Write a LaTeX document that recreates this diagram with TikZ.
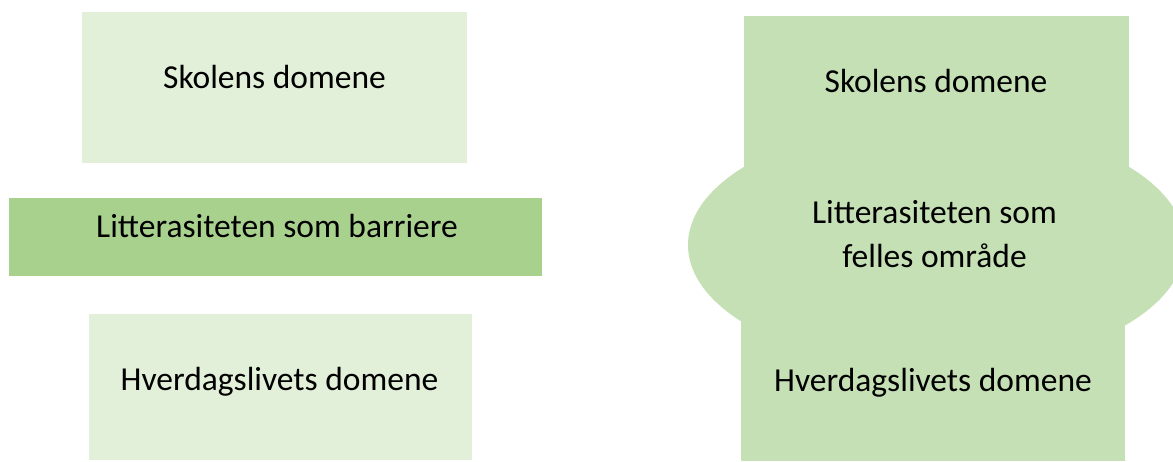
\documentclass[tikz,border=0pt]{standalone}
\usepackage{fontspec}
\setmainfont{Carlito}
\usetikzlibrary{shapes.geometric}
\definecolor{palegreen}{HTML}{E2EFD9}
\definecolor{midgreen}{HTML}{A9D18E}
\definecolor{softgreen}{HTML}{C5E0B4}
\tikzset{
  box/.style={rectangle, draw=none, inner sep=0pt, outer sep=0pt},
  label/.style={anchor=base, inner sep=0pt, align=center, text=black,
    font=\fontsize{33.5}{44}\selectfont}
}
\begin{document}
\begin{tikzpicture}[x=1pt,y=1pt]
\clip (0,0) rectangle (1173,461);
\fill[white] (0,0) rectangle (1173,461);
% left column
\node[box, fill=palegreen, minimum width=385pt, minimum height=151pt] (skoleL) at (274.5,373.5) {};
\node[box, fill=midgreen, minimum width=533pt, minimum height=78pt] (barriere) at (275.5,224) {};
\node[box, fill=palegreen, minimum width=383pt, minimum height=146pt] (hverdagL) at (280.5,74) {};
\node[label] (tSkoleL) at (274.5,372) {Skolens domene};
\node[label] (tBarriere) at (277,223) {Litterasiteten som barriere};
\node[label] (tHverdagL) at (279.5,71) {Hverdagslivets domene};
% right column
\node[box, fill=softgreen, minimum width=385pt, minimum height=184pt] (skoleR) at (936.5,353) {};
\node[ellipse, draw=none, fill=softgreen, inner sep=0pt, minimum width=497pt, minimum height=247pt] (felles) at (936.5,216) {};
\node[box, fill=softgreen, minimum width=384pt, minimum height=171pt] (hverdagR) at (933,85.5) {};
\node[label] (tSkoleR) at (936,368) {Skolens domene};
\node[label] (tFelles) at (934.5,193) {Litterasiteten som\\felles område};
\node[label] (tHverdagR) at (933,70) {Hverdagslivets domene};
\end{tikzpicture}
\end{document}
